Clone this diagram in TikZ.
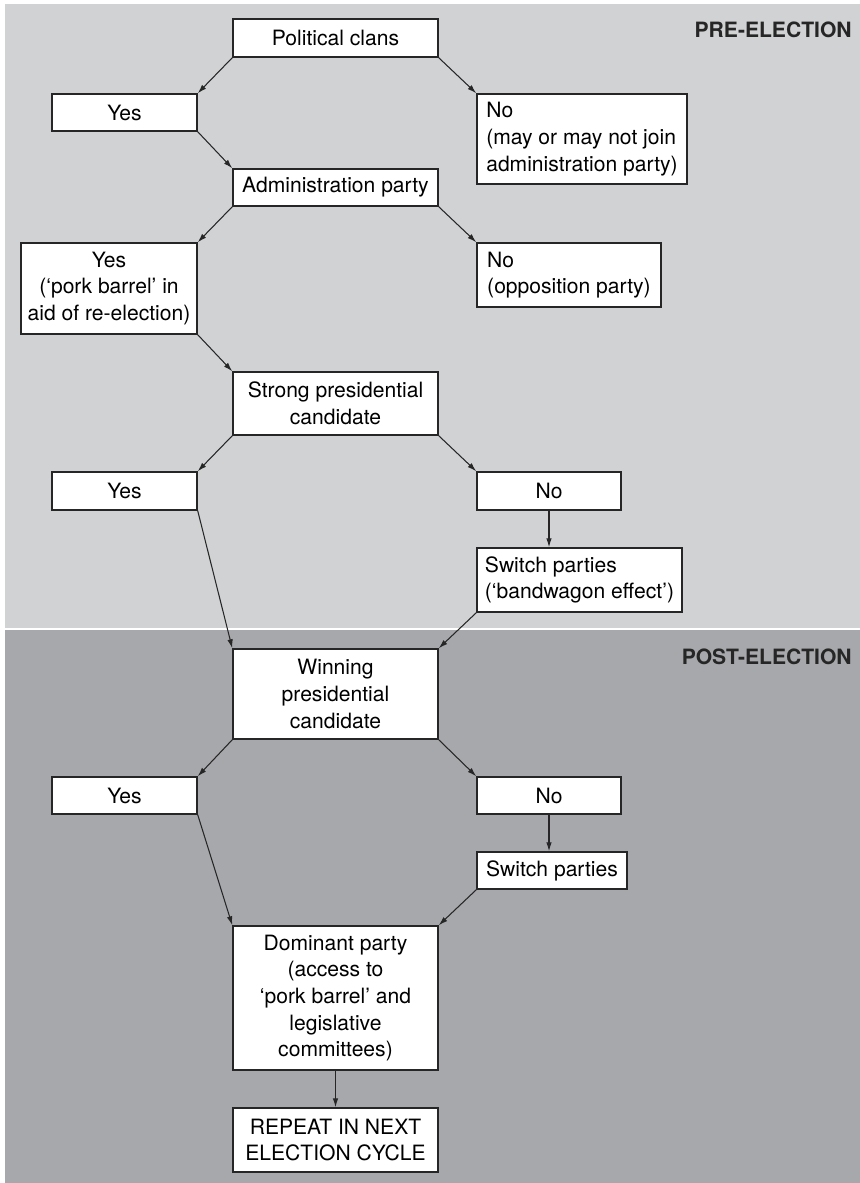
\documentclass[tikz,border=0pt]{standalone}
\usepackage{fontspec}
\setmainfont{TeX Gyre Heros}
\usepackage{xcolor}
\usepackage{tikz}
\usetikzlibrary{arrows.meta}

\definecolor{preband}{HTML}{D1D2D4}
\definecolor{postband}{HTML}{A7A8AB}

\begin{document}
\begin{tikzpicture}[
  box/.style={draw=black!85, fill=white, line width=0.8pt, align=center,
              inner sep=0pt, font=\fontsize{12}{15.2}\selectfont},
  boxl/.style={box, align=left},
  arr/.style={draw=black!85, line width=0.6pt, -{Latex[length=1.8mm,width=1.1mm]}},
  hdr/.style={font=\fontsize{12}{14}\selectfont\bfseries, anchor=east,
              inner sep=0pt, text=black!85}
]
\useasboundingbox (0,0) rectangle (17.2,-23.66);
\fill[preband] (0.1,-0.08) rectangle (17.2,-12.55);
\fill[postband] (0.1,-12.59) rectangle (17.2,-23.66);
\node[hdr] (pre) at (17.04,-0.59) {PRE-ELECTION};
\node[hdr] (post) at (17.04,-13.14) {POST-ELECTION};

\node[box, minimum width=4.1cm, minimum height=0.76cm] (clans) at (6.71,-0.76) {Political clans};
\node[box, minimum width=2.9cm, minimum height=0.74cm] (yes1) at (2.49,-2.25) {Yes};
\node[boxl, minimum width=4.2cm, minimum height=1.8cm] (no1) at (11.64,-2.78)
  {No\\(may or may not join\\administration party)};
\node[box, minimum width=4.1cm, minimum height=0.74cm] (admin) at (6.71,-3.75) {Administration party};
\node[box, minimum width=3.52cm, minimum height=1.82cm] (yes2) at (2.18,-5.77)
  {Yes\\(‘pork barrel’ in\\aid of re-election)};
\node[boxl, minimum width=3.68cm, minimum height=1.28cm] (no2) at (11.38,-5.5)
  {No\\(opposition party)};
\node[box, minimum width=4.1cm, minimum height=1.26cm] (strong) at (6.71,-8.07)
  {Strong presidential\\candidate};
\node[box, minimum width=2.9cm, minimum height=0.76cm] (yes3) at (2.49,-9.82) {Yes};
\node[box, minimum width=2.88cm, minimum height=0.76cm] (no3) at (10.98,-9.82) {No};
\node[boxl, minimum width=4.1cm, minimum height=1.28cm] (sw1) at (11.59,-11.6)
  {Switch parties\\(‘bandwagon effect’)};
\node[box, minimum width=4.1cm, minimum height=1.8cm] (win) at (6.71,-13.88)
  {Winning\\presidential\\candidate};
\node[box, minimum width=2.9cm, minimum height=0.74cm] (yes4) at (2.49,-15.91) {Yes};
\node[box, minimum width=2.88cm, minimum height=0.74cm] (no4) at (10.98,-15.91) {No};
\node[boxl, minimum width=3.0cm, minimum height=0.74cm] (sw2) at (11.04,-17.41) {Switch parties};
\node[box, minimum width=4.1cm, minimum height=2.88cm] (dom) at (6.71,-19.96)
  {Dominant party\\(access to\\‘pork barrel’ and\\legislative\\committees)};
\node[box, minimum width=4.1cm, minimum height=1.28cm] (rep) at (6.71,-22.8)
  {REPEAT IN NEXT\\ELECTION CYCLE};

\draw[arr] (clans.south west) -- (yes1.north east);
\draw[arr] (clans.south east) -- (no1.north west);
\draw[arr] (yes1.south east) -- (admin.north west);
\draw[arr] (admin.south west) -- (yes2.north east);
\draw[arr] (admin.south east) -- (no2.north west);
\draw[arr] (yes2.south east) -- (strong.north west);
\draw[arr] (strong.south west) -- (yes3.north east);
\draw[arr] (strong.south east) -- (no3.north west);
\draw[arr] (no3.south) -- (no3.south |- sw1.north);
\draw[arr] (yes3.south east) -- (win.north west);
\draw[arr] (sw1.south west) -- (win.north east);
\draw[arr] (win.south west) -- (yes4.north east);
\draw[arr] (win.south east) -- (no4.north west);
\draw[arr] (no4.south) -- (no4.south |- sw2.north);
\draw[arr] (yes4.south east) -- (dom.north west);
\draw[arr] (sw2.south west) -- (dom.north east);
\draw[arr] (dom.south) -- (rep.north);
\end{tikzpicture}
\end{document}
